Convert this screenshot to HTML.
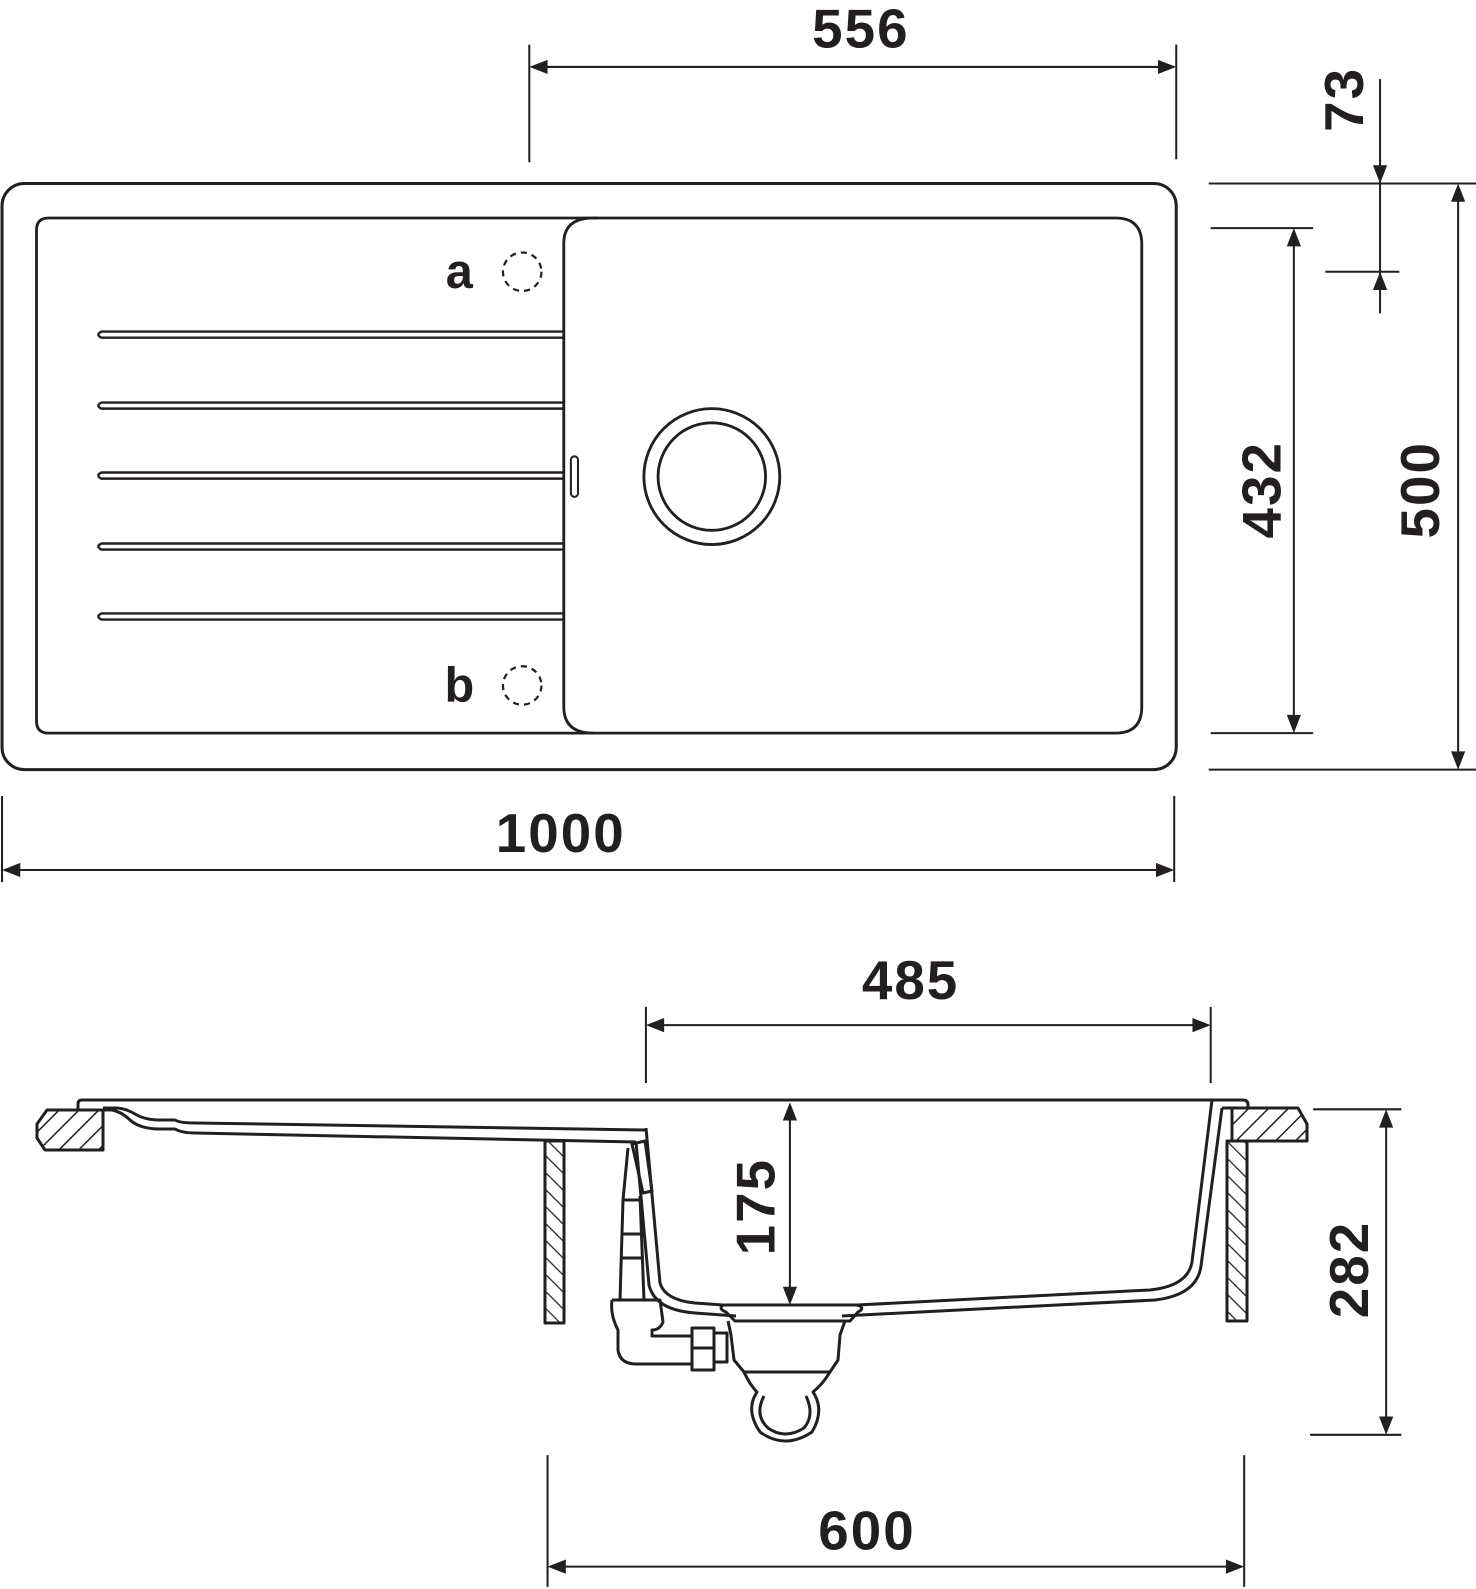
<!DOCTYPE html>
<html><head><style>
html,body{margin:0;padding:0;background:#fff;}
svg{display:block;}
text{font-family:"Liberation Sans",sans-serif;font-weight:bold;fill:#231f20;}
</style></head><body>
<svg width="1476" height="1589" viewBox="0 0 1476 1589" xmlns="http://www.w3.org/2000/svg">
<defs>
<pattern id="h" patternUnits="userSpaceOnUse" width="14" height="14" patternTransform="rotate(45)">
<rect width="14" height="14" fill="#fff"/><line x1="0" y1="0" x2="0" y2="14" stroke="#231f20" stroke-width="3"/>
</pattern>
<pattern id="h2" patternUnits="userSpaceOnUse" width="12" height="12" patternTransform="rotate(-45)">
<rect width="12" height="12" fill="#fff"/><line x1="0" y1="0" x2="0" y2="12" stroke="#231f20" stroke-width="2.5"/>
</pattern>
</defs>
<g transform="scale(1.014)" stroke="#231f20" fill="none" stroke-width="2">
<!-- top view -->
<rect x="2" y="181" width="1158" height="578" rx="22" stroke-width="3"/>
<path d="M556 240 Q556 215 585 215 H1100 Q1126 215 1126 241 V697 Q1126 723 1100 723 H585 Q556 723 556 697 Z" stroke-width="2.8"/>
<path d="M585 723 H48 Q36 723 36 711 V227 Q36 215 48 215 H590" stroke-width="2.8"/>
<g stroke-width="2.4">
<path d="M556 327 H100 Q94 330 100 333 H556"/>
<path d="M556 397 H100 Q94 400 100 403 H556"/>
<path d="M556 466 H100 Q94 469 100 472 H556"/>
<path d="M556 536 H100 Q94 539 100 542 H556"/>
<path d="M556 605 H100 Q94 608 100 611 H556"/>
</g>
<rect x="563" y="450" width="7" height="40" rx="3.5" stroke-width="2"/>
<circle cx="702" cy="470" r="67" stroke-width="2.8"/>
<circle cx="702" cy="470" r="53" stroke-width="2.8"/>
<circle cx="515" cy="268" r="19" stroke-dasharray="6 5" stroke-width="2.2"/>
<circle cx="515" cy="676" r="19" stroke-dasharray="6 5" stroke-width="2.2"/>
<!-- dimension lines -->
<g stroke-width="2">
<line x1="522" y1="44" x2="522" y2="160"/><line x1="1160" y1="44" x2="1160" y2="157"/>
<line x1="530" y1="66" x2="1152" y2="66"/>
<line x1="2" y1="785" x2="2" y2="870"/><line x1="1158" y1="785" x2="1158" y2="870"/>
<line x1="10" y1="858" x2="1150" y2="858"/>
<line x1="1192" y1="181" x2="1456" y2="181"/><line x1="1192" y1="759" x2="1456" y2="759"/>
<line x1="1438" y1="190" x2="1438" y2="750"/>
<line x1="1194" y1="225" x2="1295" y2="225"/><line x1="1194" y1="723" x2="1295" y2="723"/>
<line x1="1276" y1="234" x2="1276" y2="714"/>
<line x1="1361" y1="78" x2="1361" y2="309"/>
<line x1="1307" y1="268" x2="1380" y2="268"/>
<line x1="637" y1="993" x2="637" y2="1068"/><line x1="1194" y1="993" x2="1194" y2="1068"/>
<line x1="645" y1="1011" x2="1186" y2="1011"/>
<line x1="779" y1="1095" x2="779" y2="1280"/>
<line x1="1295" y1="1094" x2="1382" y2="1094"/><line x1="1292" y1="1415" x2="1382" y2="1415"/>
<line x1="1367" y1="1102" x2="1367" y2="1407"/>
<line x1="540" y1="1435" x2="540" y2="1565"/><line x1="1227" y1="1435" x2="1227" y2="1565"/>
<line x1="548" y1="1545" x2="1219" y2="1545"/>
</g>
<g fill="#231f20" stroke="none">
<path d="M522 66 l18 -7 v14z"/><path d="M1160 66 l-18 -7 v14z"/>
<path d="M2 858 l18 -7 v14z"/><path d="M1158 858 l-18 -7 v14z"/>
<path d="M1438 181 l-7 18 h14z"/><path d="M1438 759 l-7 -18 h14z"/>
<path d="M1276 225 l-7 18 h14z"/><path d="M1276 723 l-7 -18 h14z"/>
<path d="M1361 181 l-7 -18 h14z"/><path d="M1361 268 l-7 18 h14z"/>
<path d="M637 1011 l18 -7 v14z"/><path d="M1194 1011 l-18 -7 v14z"/>
<path d="M779 1087 l-7 18 h14z"/><path d="M779 1287 l-7 -18 h14z"/>
<path d="M1367 1094 l-7 18 h14z"/><path d="M1367 1415 l-7 -18 h14z"/>
<path d="M540 1545 l18 -7 v14z"/><path d="M1227 1545 l-18 -7 v14z"/>
</g>
<g stroke="none">
<text x="849" y="47" font-size="54" text-anchor="middle" letter-spacing="2">556</text>
<text x="553" y="840" font-size="54" text-anchor="middle" letter-spacing="2">1000</text>
<text x="898" y="985" font-size="54" text-anchor="middle" letter-spacing="2">485</text>
<text x="855" y="1528" font-size="54" text-anchor="middle" letter-spacing="2">600</text>
<text x="453" y="284" font-size="48" text-anchor="middle">a</text>
<text x="453" y="692" font-size="48" text-anchor="middle">b</text>
<text transform="translate(1419,483) rotate(-90)" font-size="54" text-anchor="middle" letter-spacing="2">500</text>
<text transform="translate(1263,483) rotate(-90)" font-size="54" text-anchor="middle" letter-spacing="2">432</text>
<text transform="translate(1344,98) rotate(-90)" font-size="54" text-anchor="middle" letter-spacing="2">73</text>
<text transform="translate(764,1190) rotate(-90)" font-size="54" text-anchor="middle" letter-spacing="2">175</text>
<text transform="translate(1349,1252) rotate(-90)" font-size="54" text-anchor="middle" letter-spacing="2">282</text>
</g>
</g>
<!-- side view -->
<g stroke="#231f20" fill="none" stroke-width="3" stroke-linejoin="round">
<path d="M47 1110 H103 V1150 H45 L37 1138 V1124 Z" fill="url(#h)"/>
<path d="M1232 1108 H1298 L1307 1124 V1141 H1232 Z" fill="url(#h)"/>
<rect x="545" y="1141" width="19" height="182" fill="url(#h2)"/>
<rect x="1227" y="1141" width="20" height="180" fill="url(#h2)"/>
<path d="M78 1110 V1104 Q78 1100 82 1100 H1243 Q1248 1100 1248 1105 V1108 H1222"/>
<path d="M103 1108 H115 Q125 1108 135 1114 Q145 1120 160 1120 H175 Q180 1123 195 1123 L646 1130"/>
<path d="M103 1110 H112 Q122 1112 130 1120 Q140 1129 160 1129 H175 Q182 1133 195 1133 L636 1142"/>
<path d="M646 1128 L660 1283 Q665 1300 695 1303 L723 1305 H857 L1150 1290 Q1188 1286 1192 1262 L1212 1100"/>
<path d="M636 1142 L649 1285 Q655 1310 695 1313 L736 1316"/>
<path d="M842 1316 L1155 1300 Q1197 1295 1201 1266 L1222 1108"/>
<path d="M632 1144 L645 1141 L652 1191 L643 1193 Z"/>
<path d="M628 1148 L623 1200 L620 1300 M640 1196 L644 1300"/>
<path d="M623 1200 H640 M621 1234 H643 M620 1258 H644"/>
<path d="M612 1300 H660 L663 1322 Q660 1330 652 1330 V1336 H692 M612 1300 Q610 1315 618 1330 V1350 Q620 1364 636 1364 H692"/>
<rect x="692" y="1328" width="22" height="42"/>
<line x1="692" y1="1348" x2="714" y2="1348"/>
<path d="M714 1333 H727 V1362 H714"/>
<path d="M723 1305 Q718 1309 726 1312 L735 1321 H850 L858 1312 Q866 1308 857 1305"/>
<path d="M728 1321 L731 1335 L734 1360 L744 1372 H830 L838 1360 L840 1335 L845 1321"/>
<path d="M744 1372 Q750 1385 757 1392 Q745 1410 760 1432 Q785 1450 812 1432 Q825 1410 813 1392 Q822 1385 830 1372"/>
<path d="M764 1396 Q754 1415 768 1428 Q785 1440 804 1428 Q815 1415 806 1396"/>
</g>
</svg>
</body></html>
